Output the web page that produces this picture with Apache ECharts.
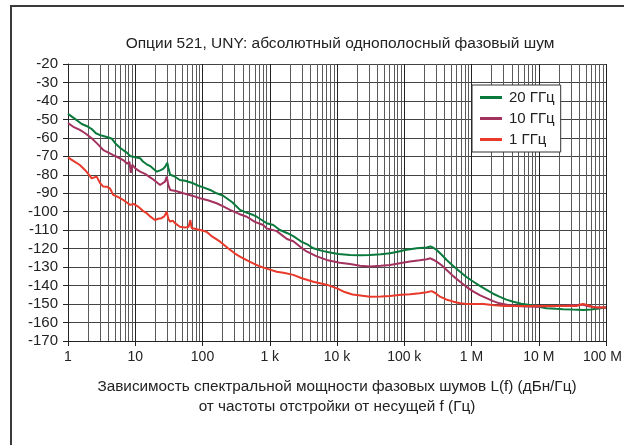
<!DOCTYPE html>
<html>
<head>
<meta charset="utf-8">
<script src="https://cdn.jsdelivr.net/npm/echarts@6/dist/echarts.min.js"></script>
<style>
  html, body { margin: 0; padding: 0; background: #fff; }
  #chart { width: 624px; height: 445px; }
</style>
</head>
<body>
<div id="chart"></div>
<script>
// подписи оси X (частота отстройки)
const tickValues = [1, 10, 100, 1e3, 1e4, 1e5, 1e6, 1e7, 1e8]
const tickLabels = ['1', '10', '100', '1 k', '10 k', '100 k', '1 M', '10 M', '100 M']
const seriesNames = ['20 ГГц', '10 ГГц', '1 ГГц']
const seriesColors = ['#0a7a3c', '#a3325f', '#e8392b']

// 20 ГГц
const freq20 = [1, 1.3, 1.6, 2, 2.25, 2.6, 3, 3.35, 4, 4.5, 5.2, 6, 6.6, 7.5, 8.4, 10, 11.8, 13, 14.8, 17,
  20.9, 24, 26, 28, 30, 31, 33, 38, 46, 55, 73, 85, 103, 130, 162, 200, 229, 280, 361, 450,
  570, 640, 800, 900, 1130, 1415, 1800, 2240, 2900, 3740, 4450, 6000, 7870, 10500, 15600, 22000, 31000, 45000, 61500, 80000,
  103000, 153000, 216000, 245000, 257000, 270000, 303000, 360000, 427000, 540000, 676000, 850000, 1.07e6, 1.35e6, 1.7e6, 2.1e6, 2.6e6, 3.3e6, 4.2e6, 5.5e6,
  7.4e6, 1e7, 1.3e7, 1.8e7, 2.3e7, 3.2e7, 4.6e7, 6e7, 7.3e7, 1e8]
const val20 = [-47, -50, -52.5, -54, -55.2, -57.5, -58.5, -59, -59.8, -60.5, -63.5, -65.5, -66.6, -68, -69.8, -70.5, -71, -72.8, -74.3, -75.5,
  -78.3, -77.5, -76.8, -75.5, -73.5, -76, -80, -80.8, -82.8, -83.2, -84.6, -85.8, -86.8, -88.2, -90, -91.2, -92.7, -95, -99, -100.5,
  -101.8, -102.7, -105, -106.2, -107.2, -109.9, -111.5, -113.2, -116, -118, -119.8, -121.2, -122.1, -122.9, -123.4, -123.6, -123.4, -123, -122.5, -121.7,
  -120.7, -119.8, -119.4, -118.8, -118, -119.5, -120.7, -123.3, -126.1, -129.5, -132.5, -135.5, -137.9, -140.3, -142.4, -144.4, -146, -147.6, -148.7, -149.8,
  -150.5, -151.4, -152.3, -152.6, -152.8, -153, -153.2, -152.9, -152.5, -151.9]

// 10 ГГц
const freq10 = [1, 1.2, 1.5, 1.8, 2.25, 2.7, 3.35, 4, 4.7, 5.5, 6.6, 7.6, 8.2, 8.6, 9, 10, 11.8, 14, 17.5, 20,
  23.4, 27.7, 29.4, 31, 33, 40, 52, 70, 92, 120, 162, 200, 256, 350, 455, 600, 800, 900, 1270, 1800,
  2240, 2840, 3530, 5000, 7000, 11000, 15600, 22000, 31000, 45000, 61500, 90000, 122000, 170000, 216000, 245000, 257000, 270000, 303000, 360000,
  427000, 540000, 676000, 850000, 1.07e6, 1.35e6, 1.7e6, 2.1e6, 2.6e6, 3.5e6, 4.6e6, 6.5e6, 9.2e6, 1.3e7, 1.86e7, 2.6e7, 3.7e7, 4.4e7, 5.2e7, 7.3e7, 1e8]
const val10 = [-52, -54, -55.7, -57.5, -60.2, -63, -66.6, -68, -69.3, -70.5, -72, -74, -73, -79, -74.5, -76.5, -78.3, -79.5, -81.9, -83.5,
  -85.5, -83.7, -81, -85.5, -88.2, -88.8, -90, -91.3, -92.7, -93.8, -95.4, -97, -99, -101.2, -102.7, -105.5, -107.2, -109, -110.5, -114.8,
  -116, -119, -121.5, -124.2, -126.1, -127.6, -128.3, -129.2, -129.7, -129.3, -128.8, -127.8, -127, -126.3, -125.7, -125.2, -124.6, -126, -127, -129,
  -131.5, -135, -137.9, -140.8, -143.3, -145.3, -146.9, -148.4, -149.6, -150.5, -151, -151.3, -151.4, -151.2, -151, -150.8, -150.5, -150.2, -151, -151.9, -151.9]

// 1 ГГц
const freq1 = [1, 1.2, 1.5, 1.8, 2.1, 2.25, 2.67, 3, 3.35, 3.8, 4.2, 4.7, 5.5, 6.6, 7.5, 8.4, 9.5, 11, 13, 14.8,
  17, 19.6, 22, 24.6, 27, 29.4, 31, 33, 36, 39, 46, 55, 62, 66, 69, 73, 92, 115, 140, 183,
  240, 300, 361, 500, 720, 900, 1270, 1600, 2240, 3000, 4450, 7000, 10000, 13000, 17000, 24000, 31000, 45000, 61500, 90000,
  122000, 170000, 216000, 255000, 270000, 290000, 340000, 420000, 540000, 680000, 850000, 1.1e6, 1.5e6, 2.2e6, 3.2e6, 6.3e6, 1.2e7, 2.3e7, 3.7e7, 4.2e7,
  4.6e7, 5.2e7, 6.6e7, 1e8]
const val1 = [-70.6, -72.5, -74.7, -77.5, -80.5, -81.9, -81, -84.5, -86.4, -86.5, -87.3, -90.9, -92, -93.6, -95, -96.3, -95.8, -97.2, -99.5, -100.8,
  -102.8, -104.5, -103.8, -103.5, -102.5, -100, -103.8, -105.4, -104.8, -106.2, -108.1, -108.5, -108.3, -104.5, -108.8, -109, -109.9, -110.8, -113.5, -116.2,
  -119.8, -122.5, -124.3, -127, -129.7, -130.8, -132.5, -133, -134.2, -136, -137.9, -139.5, -141.5, -143.5, -144.8, -145.5, -146, -145.9, -145.6, -145,
  -144.7, -144.1, -143.6, -143, -142.6, -144, -146, -147.5, -148.7, -149.6, -150, -150, -150, -150.6, -151, -151, -151, -151, -151, -150.4,
  -150, -150.5, -151.7, -151.9]

const font = "'Liberation Sans', Arial, sans-serif"

const zip = (xs, ys) => xs.map((x, i) => [x, ys[i]])

// промежуточные линии сетки 2..9 в каждой декаде
const minorLines = []
for (let d = 0; d < 8; d++) {
  for (let k = 2; k <= 9; k++) {
    minorLines.push({ xAxis: k * Math.pow(10, d) })
  }
}

const chart = echarts.init(document.getElementById('chart'))

const lineSeries = [zip(freq20, val20), zip(freq10, val10), zip(freq1, val1)].map((data, i) => ({
  name: seriesNames[i],
  type: 'line',
  data: data,
  showSymbol: false,
  symbol: 'none',
  lineStyle: { color: seriesColors[i], width: 2 },
  itemStyle: { color: seriesColors[i] },
  z: 3 + i
}))

chart.setOption({
  animation: false,
  backgroundColor: '#fff',
  textStyle: { fontFamily: font },
  graphic: [{
    type: 'rect',
    shape: { x: 11, y: 6, width: 700, height: 500 },
    style: { fill: 'none', stroke: '#3a3a3a', lineWidth: 2 },
    silent: true
  }],
  title: {
    text: 'Опции 521, UNY: абсолютный однополосный фазовый шум',
    left: 340,
    top: 36,
    textAlign: 'center',
    padding: 0,
    textStyle: { fontFamily: font, fontSize: 15.5, fontWeight: 'normal', color: '#222' }
  },
  legend: {
    data: seriesNames,
    orient: 'vertical',
    left: 472,
    top: 85,
    z: 30,
    backgroundColor: '#fff',
    borderColor: '#333',
    borderWidth: 1,
    padding: [5, 6, 5, 8],
    itemGap: 6,
    itemWidth: 22,
    itemHeight: 3,
    icon: 'rect',
    textStyle: { fontFamily: font, fontSize: 15, color: '#222', padding: [0, 0, 0, 2] }
  },
  grid: { left: 68, right: 18, top: 64, height: 277, outerBoundsMode: 'none' },
  xAxis: {
    type: 'log',
    logBase: 10,
    min: 1,
    max: 1e8,
    name: 'Зависимость спектральной мощности фазовых шумов L(f) (дБн/Гц)\nот частоты отстройки от несущей f (Гц)',
    nameLocation: 'middle',
    nameGap: 36,
    nameTextStyle: { fontFamily: font, fontSize: 15.3, color: '#222', lineHeight: 20, verticalAlign: 'top' },
    axisLine: { show: true, lineStyle: { color: '#222', width: 1 } },
    axisTick: { show: true, length: 5, lineStyle: { color: '#222' } },
    axisLabel: {
      margin: 9,
      fontSize: 14,
      color: '#222',
      fontFamily: font,
      rich: { last: { fontSize: 14, fontFamily: font, color: '#222', padding: [0, 7, 0, 0] } },
      formatter: v => {
        const idx = tickValues.findIndex(t => Math.abs(Math.log10(t) - Math.log10(v)) < 1e-6)
        if (idx < 0) return ''
        return idx === tickLabels.length - 1 ? '{last|' + tickLabels[idx] + '}' : tickLabels[idx]
      }
    },
    splitLine: { show: true, lineStyle: { color: '#222', width: 1 } }
  },
  yAxis: {
    type: 'value',
    min: -170,
    max: -20,
    interval: 10,
    axisLine: { show: true, lineStyle: { color: '#222', width: 1 } },
    axisTick: { show: true, length: 5, lineStyle: { color: '#222' } },
    axisLabel: { margin: 10, fontSize: 15, color: '#222', fontFamily: font },
    splitLine: { show: true, lineStyle: { color: '#444', width: 1 } }
  },
  series: [{
    name: 'grid-minor',
    type: 'line',
    data: [],
    silent: true,
    z: 1,
    markLine: {
      silent: true,
      symbol: 'none',
      animation: false,
      z: 1,
      label: { show: false },
      lineStyle: { color: '#5a5a5a', width: 1, type: 'solid' },
      emphasis: { disabled: true },
      data: minorLines
    }
  }].concat(lineSeries)
})
</script>
</body>
</html>
